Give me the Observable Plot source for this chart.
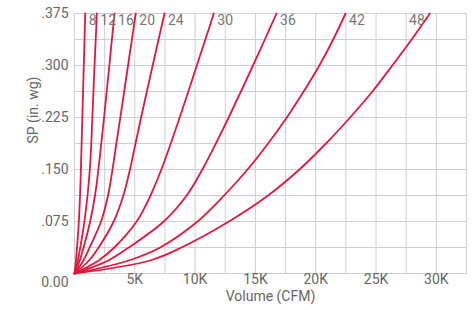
<!DOCTYPE html>
<html>
<head>
<meta charset="utf-8">
<script src="https://cdn.jsdelivr.net/npm/d3@7"></script>
<script src="https://cdn.jsdelivr.net/npm/@observablehq/plot@0.6"></script>
<style>
  html, body { margin: 0; padding: 0; background: #fff; }
  #chart { width: 472px; height: 310px; }
</style>
</head>
<body>
<div id="chart"></div>
<script>
// SP levels (in. wg) at which each curve's volume was read
const spLevels = [0, 0.01875, 0.0375, 0.075, 0.1125, 0.15, 0.1875, 0.225, 0.2625, 0.3, 0.3375, 0.375];

// Volume (CFM) for each fan size at the SP levels above
const fanSizes = ["8", "12", "16", "20", "24", "30", "36", "42", "48"];
const cfm8  = [0, 120, 210, 360, 460, 530, 590, 650, 710, 770, 830, 890];
const cfm12 = [0, 280, 480, 820, 1080, 1270, 1390, 1480, 1570, 1660, 1760, 1850];
const cfm16 = [0, 440, 750, 1300, 1700, 1980, 2220, 2450, 2670, 2890, 3100, 3320];
const cfm20 = [0, 740, 1250, 2200, 2780, 3150, 3470, 3800, 4120, 4440, 4760, 5080];
const cfm24 = [0, 1200, 2000, 3250, 4050, 4600, 5060, 5520, 6000, 6480, 6970, 7460];
const cfm30 = [0, 2000, 3300, 5150, 6300, 7200, 7980, 8720, 9440, 10140, 10850, 11550];
const cfm36 = [0, 2800, 4500, 7400, 9300, 10600, 11720, 12780, 13800, 14800, 15780, 16750];
const cfm42 = [0, 4500, 7100, 10200, 12400, 14350, 16050, 17600, 19000, 20300, 21450, 22470];
const cfm48 = [0, 6250, 8870, 12800, 16050, 18650, 20850, 22850, 24700, 26350, 27950, 29460];

const xTicks = [5000, 10000, 15000, 20000, 25000, 30000];
const xTickLabels = ["5K", "10K", "15K", "20K", "25K", "30K"];
const yTicks = [0, 0.075, 0.15, 0.225, 0.3, 0.375];
const yTickLabels = ["0.00", ".075", ".150", ".225", ".300", ".375"];
const xGrid = d3.range(0, 32501, 2500);
const yGrid = d3.range(0, 11).map(i => i * 0.0375);

const series = [cfm8, cfm12, cfm16, cfm20, cfm24, cfm30, cfm36, cfm42, cfm48];
const rows = [];
series.forEach((arr, k) => arr.forEach((v, i) => rows.push({size: fanSizes[k], cfm: v, sp: spLevels[i]})));
const ends = series.map((arr, k) => ({size: fanSizes[k], cfm: arr[arr.length - 1], sp: spLevels[spLevels.length - 1]}));

const red = "#e3173d";
const gray = "#666";
const font = "Roboto, 'Noto Sans', sans-serif";

const chart = Plot.plot({
  width: 472,
  height: 310,
  marginLeft: 74,
  marginRight: 6,
  marginTop: 13,
  marginBottom: 37,
  style: {fontFamily: font, fontSize: "14px", color: gray, background: "#fff"},
  x: {domain: [0, 32500], axis: null},
  y: {domain: [0, 0.375], axis: null},
  marks: [
    Plot.gridX(xGrid, {stroke: "#cfcfcf", strokeOpacity: 1}),
    Plot.gridY(yGrid, {stroke: "#cfcfcf", strokeOpacity: 1}),
    Plot.frame({stroke: "#cfcfcf"}),
    Plot.axisX(xTicks, {tickSize: 0, tickPadding: 1, tickFormat: d => xTickLabels[xTicks.indexOf(d)], fontSize: 14, fill: gray, label: null}),
    Plot.axisY(yTicks.slice(1), {tickSize: 0, tickPadding: 6, tickFormat: d => yTickLabels[yTicks.indexOf(d)], fontSize: 14, fill: gray, label: null}),
    Plot.text([{x: yTicks[0], y: yTicks[0], t: yTickLabels[0]}], {x: "x", y: "y", text: "t", textAnchor: "end", dx: -6, dy: 9, fontSize: 14, fill: gray}),
    Plot.line(rows, {x: "cfm", y: "sp", z: "size", stroke: red, strokeWidth: 1.8, curve: "catmull-rom"}),
    Plot.text(ends.filter(d => d.cfm <= 28000), {x: "cfm", y: "sp", text: "size", fill: "#777", fontSize: 14, dy: 7, dx: 3.5, textAnchor: "start"}),
    Plot.text(ends.filter(d => d.cfm > 28000), {x: "cfm", y: "sp", text: "size", fill: "#777", fontSize: 14, dy: 7, dx: -5, textAnchor: "end"}),
    Plot.text(["Volume (CFM)"], {frameAnchor: "bottom", dy: 27, fontSize: 14, fill: gray}),
    Plot.text(["SP (in. wg)"], {frameAnchor: "left", dx: -41, rotate: -90, fontSize: 14, fill: gray})
  ]
});
document.getElementById("chart").appendChild(chart);
</script>
</body>
</html>
